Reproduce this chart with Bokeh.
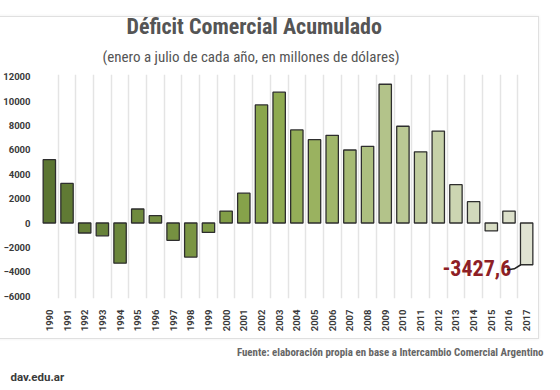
from bokeh.plotting import figure
from bokeh.models import FixedTicker, Range1d, ColumnDataSource, Title, InlineStyleSheet
from bokeh.core.properties import value
from bokeh.embed import file_html
from bokeh.resources import INLINE

years = list(range(1990, 2018))
deficit = [5200, 3250, -820, -1050, -3300, 1150, 600, -1420, -2800, -770,
           980, 2450, 9700, 10750, 7650, 6850, 7200, 6000, 6300, 11400,
           7950, 5850, 7550, 3150, 1750, -650, 980, -3427.6]
y_ticks = [-6000, -4000, -2000, 0, 2000, 4000, 6000, 8000, 10000, 12000]
title_text = "Déficit Comercial Acumulado"
subtitle_text = "(enero a julio de cada año, en millones de dólares)"
source_text = "Fuente: elaboración propia en base a Intercambio Comercial Argentino"
site_text = "dav.edu.ar"
highlight_text = "-3427,6"

colors = ["#5b7532", "#607a34", "#647e37", "#67823a", "#6b863b", "#6f8a3d", "#738e40",
          "#769141", "#7a9543", "#7e9a45", "#829e47", "#86a24a", "#8aa64c", "#8eaa50",
          "#94ae58", "#9ab260", "#a0b66a", "#a6ba74", "#adbf80", "#b3c38a", "#bac894",
          "#c0cc9e", "#c6d1a8", "#ccd5b2", "#d2d9bc", "#d8ddc4", "#dce0ca", "#e0e3d2"]

COND = "'Roboto Condensed', 'Liberation Sans Narrow', 'DejaVu Sans Condensed', Roboto"

box_css = InlineStyleSheet(css="""
:host { position: relative; }
:host::after {
  content: ""; position: absolute; left: -12px; top: 16px; width: 551px; height: 323px;
  box-sizing: border-box; border: 1.5px solid #e0e0e0; pointer-events: none;
  box-shadow: 0 0 3px rgba(0,0,0,0.07);
}
""")

p = figure(width=544, height=383, output_backend="svg", toolbar_location=None,
           x_range=Range1d(1989.5, 2017.5), y_range=Range1d(-6200, 12200),
           min_border_left=30, min_border_right=9, min_border_top=74, min_border_bottom=84,
           stylesheets=[box_css])
p.outline_line_color = None
p.background_fill_color = "white"
p.border_fill_color = "white"

p.title.text = title_text
p.title.align = "left"
p.title.offset = 86
p.title.text_font = COND
p.title.text_font_style = "bold"
p.title.text_font_size = "22px"
p.title.text_color = "#555555"
p.title.standoff = -2
p.add_layout(Title(text=subtitle_text, align="left", offset=62, text_font=COND,
                   text_font_style="normal", text_font_size="15px", text_color="#555555",
                   standoff=17), "above")

src = ColumnDataSource(dict(x=years, top=deficit, color=colors))
p.vbar(x="x", top="top", bottom=0, width=0.7, fill_color="color", line_color="#2e2e2e",
       line_width=1.3, source=src)

# axes
p.xaxis.ticker = FixedTicker(ticks=years)
p.xaxis.major_label_orientation = 1.5708
p.xaxis.axis_line_color = None
p.xaxis.major_tick_line_color = None
p.xaxis.minor_tick_line_color = None
p.xaxis.major_label_text_font = "Roboto"
p.xaxis.major_label_text_font_style = "bold"
p.xaxis.major_label_text_font_size = "9.5px"
p.xaxis.major_label_text_color = "#3a3a3a"
p.xaxis.major_label_standoff = 5

p.yaxis.ticker = FixedTicker(ticks=y_ticks)
p.yaxis.axis_line_color = None
p.yaxis.major_tick_line_color = None
p.yaxis.minor_tick_line_color = None
p.yaxis.major_label_text_font = "Roboto"
p.yaxis.major_label_text_font_style = "bold"
p.yaxis.major_label_text_font_size = "9.5px"
p.yaxis.major_label_text_color = "#3a3a3a"
p.yaxis.major_label_standoff = 4

p.ygrid.grid_line_color = None
p.xgrid.ticker = FixedTicker(ticks=[y - 0.5 for y in years] + [years[-1] + 0.5])
p.xgrid.grid_line_color = "#e4e4e4"
p.xgrid.grid_line_width = 1.5

# annotation for 2017
p.text(x=[years[-1] - 1.15], y=[deficit[-1]], text=[highlight_text], x_offset=5, y_offset=3,
       text_align="right", text_baseline="middle", text_font_size="22px",
       text_font_style="bold", text_color="#8e1f26", text_font=value(COND))
p.line(x=[years[-1] - 1.12, years[-1] - 0.7, years[-1] - 0.33],
       y=[deficit[-1] - 420, deficit[-1] - 330, deficit[-1]],
       line_color="#222222", line_width=1.5)

# footer
p.add_layout(Title(text=source_text, align="right", offset=-8, text_font=COND,
                   text_font_style="bold", text_font_size="10.9px", text_color="#666666",
                   standoff=18), "below")
p.add_layout(Title(text=site_text, align="left", offset=-30, text_font="Roboto",
                   text_font_style="bold", text_font_size="11.5px", text_color="#3a3a3a",
                   standoff=0), "below")

open("out.html", "w").write(file_html(p, INLINE))
